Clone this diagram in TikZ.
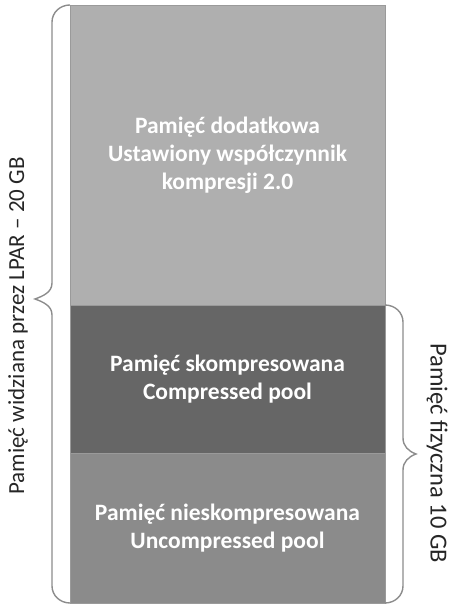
\documentclass[tikz,border=0pt]{standalone}
\usepackage{fontspec}
\setmainfont{Carlito}
\usepackage{tikz}
\usetikzlibrary{positioning}
\definecolor{extrafill}{HTML}{AFAFAF}
\definecolor{compfill}{HTML}{666666}
\definecolor{uncompfill}{HTML}{8B8B8B}
\definecolor{edgegray}{HTML}{9A9A9A}
\definecolor{bracegray}{HTML}{8C8C8C}
\tikzset{every node/.style={font=\fontsize{23}{28}\selectfont}}

\begin{document}
\begin{tikzpicture}[x=1pt, y=1pt]
    % Define styles
    \tikzstyle{pool} = [rectangle, minimum width=315pt, outer sep=0pt, align=center, text=white, font=\fontsize{23.5}{28}\selectfont\bfseries, draw=edgegray, line width=0.6pt]
    \tikzstyle{extrapool} = [pool, fill=extrafill, minimum height=300pt]
    \tikzstyle{comppool} = [pool, fill=compfill, minimum height=148pt]
    \tikzstyle{uncomppool} = [pool, fill=uncompfill, minimum height=150pt]
    \tikzstyle{bracket} = [bracegray, line width=1.4pt]
    \tikzstyle{sidelabel} = [text=black!85]

    \useasboundingbox (0,0) rectangle (448,607);

    % Memory stack
    \node (extra) [extrapool] at (227.5, 452) {Pamięć dodatkowa\\Ustawiony współczynnik\\kompresji 2.0};
    \node (comp) [comppool, below=0pt of extra] {Pamięć skompresowana\\Compressed pool};
    \node (uncomp) [uncomppool, below=0pt of comp] {Pamięć nieskompresowana\\Uncompressed pool};

    % Brace tips
    \coordinate (ltip) at (35, 308);
    \coordinate (rtip) at (416, 153);

    % Left brace: whole LPAR memory
    \draw [bracket] (extra.north west) to[out=180, in=90] ++(-18,-17)
        -- ([xshift=17, yshift=16]ltip) to[out=-90, in=20] (ltip)
        to[out=-20, in=90] ([xshift=17, yshift=-16]ltip)
        -- ([xshift=-18, yshift=17]uncomp.south west) to[out=-90, in=180] (uncomp.south west);

    % Right brace: physical memory
    \draw [bracket] (comp.north east) to[out=0, in=90] ++(18,-17)
        -- ([xshift=-13, yshift=16]rtip) to[out=-90, in=160] (rtip)
        to[out=200, in=90] ([xshift=-13, yshift=-16]rtip)
        -- ([xshift=18, yshift=17]uncomp.south east) to[out=-90, in=0] (uncomp.south east);

    % Side labels
    \node (lparlabel) [sidelabel, rotate=90] at (18, 281) {Pamięć widziana przez LPAR – 20 GB};
    \node (physlabel) [sidelabel, rotate=-90, font=\fontsize{24.5}{28}\selectfont] at (437, 154) {Pamięć fizyczna 10 GB};
\end{tikzpicture}
\end{document}
